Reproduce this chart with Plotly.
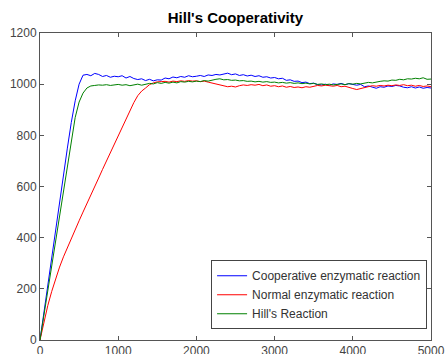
import plotly.graph_objects as go

x = list(range(0, 5001, 50))

coop = [0, 110, 215, 320, 430, 540, 650, 750, 850, 935,
        1000, 1035, 1038, 1033, 1042, 1038, 1030, 1034, 1027, 1031,
        1029, 1033, 1024, 1030, 1022, 1018, 1021, 1014, 1019, 1013,
        1017, 1016, 1024, 1021, 1028, 1025, 1030, 1027, 1033, 1029,
        1031, 1034, 1030, 1036, 1034, 1038, 1036, 1041, 1043, 1037,
        1040, 1034, 1037, 1032, 1035, 1030, 1033, 1027, 1029, 1024,
        1026, 1021, 1023, 1015, 1017, 1011, 1012, 1006, 1008, 1002,
        1004, 998, 997, 1000, 996, 1001, 999, 1003, 998, 1002,
        1000, 996, 999, 990, 993, 987, 984, 990, 988, 993,
        991, 995, 993, 988, 986, 990, 985, 989, 984, 987, 985]

normal = [0, 70, 135, 190, 240, 285, 325, 362, 397, 432,
          466, 500, 535, 568, 600, 633, 667, 700, 735, 768,
          800, 833, 866, 898, 928, 955, 973, 985, 998, 1005,
          1009, 1010, 1011, 1008, 1012, 1010, 1013, 1011, 1014, 1012,
          1013, 1010, 1012, 1008, 1004, 1000, 996, 993, 990, 992,
          989, 994, 997, 995, 998, 996, 999, 994, 997, 992,
          994, 990, 993, 988, 991, 987, 989, 986, 990, 988,
          992, 995, 993, 996, 994, 992, 995, 990, 992, 986,
          983, 979, 982, 988, 991, 994, 992, 995, 993, 996,
          994, 997, 995, 998, 994, 996, 992, 995, 991, 993, 990]

hill = [0, 95, 190, 290, 385, 480, 580, 680, 770, 870,
        930, 965, 985, 993, 995, 997, 996, 998, 995, 997,
        999, 996, 998, 994, 997, 1000, 996, 999, 1003, 1001,
        1006, 1003, 1007, 1004, 1008, 1005, 1010, 1008, 1011, 1009,
        1012, 1010, 1014, 1012, 1016, 1019, 1021, 1017, 1018, 1015,
        1016, 1013, 1014, 1011, 1012, 1009, 1011, 1008, 1010, 1007,
        1008, 1005, 1007, 1004, 1006, 1003, 1005, 1002, 1004, 1001,
        1003, 999, 1001, 998, 1000, 997, 999, 1001, 998, 1002,
        1000, 1003, 1001, 1005, 1007, 1005, 1009, 1011, 1013, 1012,
        1016, 1015, 1019, 1017, 1021, 1020, 1023, 1021, 1025, 1019, 1020]

names = ["Cooperative enzymatic reaction", "Normal enzymatic reaction", "Hill's Reaction"]
colors = ["#0000ff", "#ff0000", "#008000"]
xticks = [0, 1000, 2000, 3000, 4000, 5000]
yticks = [0, 200, 400, 600, 800, 1000, 1200]

fig = go.Figure()
for ys, nm, c in zip([coop, normal, hill], names, colors):
    fig.add_trace(go.Scatter(x=x, y=ys, mode="lines", name=nm,
                             line=dict(color=c, width=1)))

axis_common = dict(showgrid=False, zeroline=False, showline=True, linecolor="#555555",
                   linewidth=1, mirror="ticks", ticks="inside", ticklen=4,
                   tickcolor="#555555", automargin=False,
                   tickfont=dict(family="Liberation Sans, Arial", size=12, color="#444444"))

fig.update_layout(
    width=445, height=354,
    margin=dict(l=40, r=14, t=33, b=14),
    paper_bgcolor="white", plot_bgcolor="white",
    title=dict(text="<b>Hill's Cooperativity</b>", x=0.529, xanchor="center",
               y=0.949, yanchor="middle",
               font=dict(family="Liberation Sans, Arial", size=15, color="black")),
    xaxis=dict(range=[0, 5000], tickvals=xticks, **axis_common),
    yaxis=dict(range=[0, 1200], tickvals=yticks, **axis_common),
    legend=dict(x=0.99, xanchor="right", y=0.035, yanchor="bottom",
                bgcolor="white", bordercolor="#444444", borderwidth=1,
                font=dict(family="Liberation Sans, Arial", size=12, color="#333333"),
                tracegroupgap=0, itemwidth=30),
    showlegend=True,
)

fig.write_html("out.html")
